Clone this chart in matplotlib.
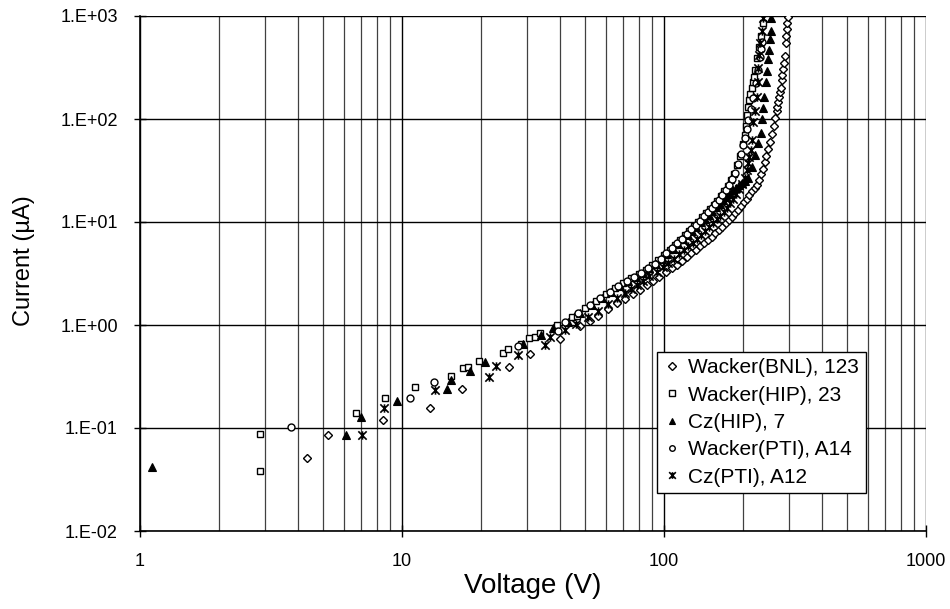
import math
import matplotlib
matplotlib.use('Agg')
import matplotlib.pyplot as plt
from matplotlib.path import Path
from matplotlib.ticker import FixedLocator, FuncFormatter, NullLocator, LogLocator

plt.rcParams['font.family'] = ['Liberation Sans', 'DejaVu Sans']

# Wacker(BNL), 123  - open diamonds
v_bnl = [4.33, 5.2, 8.46, 12.8, 16.9, 25.5, 30.8, 40, 47.8, 52, 56, 61, 66, 71, 76, 81, 86, 91, 96,
         102, 107, 112, 117, 122, 127, 132, 137, 142, 147, 152, 157, 162, 167, 172, 177, 182, 187,
         192, 197, 202, 207, 212, 217, 222, 226, 230, 234, 238, 242, 246, 250, 254, 258, 262, 266,
         269, 271, 273, 275, 277, 279, 281, 283, 285, 287, 289, 291, 293, 295, 296, 297]
i_bnl = [0.051, 0.085, 0.12, 0.155, 0.239, 0.394, 0.52, 0.73, 0.98, 1.1, 1.23, 1.42, 1.62, 1.8, 2.0,
         2.2, 2.44, 2.68, 2.92, 3.25, 3.55, 3.85, 4.2, 4.55, 4.95, 5.35, 5.8, 6.25, 6.7, 7.2, 7.75,
         8.35, 9.0, 9.7, 10.5, 11.3, 12.2, 13.2, 14.3, 15.5, 16.8, 18.2, 19.8, 21.5, 23, 25.5, 29,
         33, 38, 44, 51, 60, 72, 86, 103, 120, 132, 145, 165, 182, 199, 239, 270, 304, 350, 409,
         551, 640, 743, 850, 984]

# Wacker(HIP), 23  - open squares
v_hip = [2.87, 2.87, 6.69, 8.65, 11.2, 15.4, 17.1, 17.9, 19.6, 24.4, 25.4, 28.4, 30.5, 32.2, 33.6,
         39.2, 44.4, 46.4, 50, 55, 60, 65, 70, 75, 80, 85, 90, 95, 100, 105, 110, 115, 120, 125,
         130, 135, 140, 145, 150, 155, 160, 165, 170, 175, 180, 185, 190, 195, 200, 203, 205, 207,
         209, 211, 213, 216, 219, 221, 222, 226, 230, 234, 239]
i_hip = [0.038, 0.087, 0.141, 0.197, 0.25, 0.32, 0.385, 0.39, 0.45, 0.53, 0.59, 0.65, 0.75, 0.77,
         0.83, 1.0, 1.19, 1.22, 1.45, 1.72, 2.02, 2.3, 2.57, 2.85, 3.1, 3.45, 3.85, 4.25, 4.75,
         5.35, 6.0, 6.7, 7.45, 8.2, 9.1, 10.1, 11.1, 12.3, 13.4, 14.7, 16.0, 17.8, 19.8, 22.3,
         25.3, 29.5, 35.5, 44, 57, 70, 85, 109, 130, 153, 175, 200, 228, 256, 300, 391, 500, 640,
         855]

# Cz(HIP), 7  - filled triangles
v_czhip = [1.108, 6.1, 6.96, 9.6, 14.8, 15.4, 18.1, 20.7, 29, 34, 37.8, 43, 48, 53, 58, 63, 68, 73,
           78, 83, 88, 93, 98, 103, 108, 113, 118, 123, 128, 133, 138, 143, 148, 153, 158, 163,
           168, 173, 178, 183, 188, 193, 198, 204, 210, 216, 222, 228, 234, 236, 239, 241, 245,
           248, 250, 252, 254, 256, 257]
i_czhip = [0.042, 0.086, 0.129, 0.183, 0.24, 0.29, 0.355, 0.44, 0.65, 0.8, 0.93, 1.08, 1.3, 1.55,
           1.83, 2.1, 2.38, 2.65, 2.9, 3.2, 3.55, 3.95, 4.4, 4.9, 5.5, 6.1, 6.8, 7.5, 8.2, 9.0,
           9.9, 10.8, 11.8, 12.8, 13.9, 15.0, 16.2, 17.5, 18.9, 20.3, 21.6, 22.8, 24, 25, 26.5,
           34, 45, 58, 73, 100, 127, 165, 230, 290, 380, 470, 600, 720, 960]

# Wacker(PTI), A14  - open circles
v_pti = [3.77, 10.7, 13.2, 27.8, 39.3, 42, 47, 52, 57, 62, 67, 72, 77, 82, 87, 92, 97, 102, 107,
         112, 117, 122, 127, 132, 137, 142, 147, 152, 157, 162, 167, 172, 177, 182, 187, 192, 197,
         201, 204, 207, 210, 214, 218, 224, 229, 232, 234, 236]
i_pti = [0.103, 0.194, 0.28, 0.62, 0.87, 1.06, 1.3, 1.55, 1.82, 2.1, 2.4, 2.65, 2.9, 3.2, 3.55,
         3.95, 4.4, 4.95, 5.55, 6.2, 6.9, 7.6, 8.5, 9.4, 10.3, 11.4, 12.6, 13.8, 15.0, 16.5, 18.2,
         20.3, 22.8, 26, 30, 36.5, 46, 56, 66, 80, 98, 125, 160, 225, 300, 400, 480, 560]

# Cz(PTI), A12  - star markers
v_czpti = [7.06, 8.56, 13.4, 21.5, 22.8, 27.8, 35.2, 36.6, 41.9, 46, 51.4, 56, 61, 66, 71, 75, 78.6,
           83, 88, 93.8, 99, 104, 109, 114, 119, 124, 129, 134, 139, 144, 149, 154, 159, 164, 169,
           174, 179, 184, 189, 194, 198, 203, 207, 210, 212, 214, 216, 219, 222, 226, 228, 229,
           231, 233, 236, 239]
i_czpti = [0.086, 0.157, 0.234, 0.315, 0.40, 0.51, 0.64, 0.77, 0.89, 1.02, 1.2, 1.38, 1.6, 1.82,
           2.05, 2.25, 2.44, 2.7, 3.0, 3.3, 3.65, 4.0, 4.4, 4.85, 5.3, 5.8, 6.3, 6.9, 7.5, 8.2,
           8.9, 9.7, 10.6, 11.5, 12.6, 13.8, 15.2, 16.8, 18.7, 21, 23.5, 27, 32, 37, 43, 50, 63,
           94, 120, 165, 230, 313, 420, 547, 720, 950]

x_ticks = [1, 10, 100, 1000]
y_ticks = [1e-2, 1e-1, 1e0, 1e1, 1e2, 1e3]

# excel-like star marker: an x with a vertical bar
star = Path([(-1, -1), (1, 1), (-1, 1), (1, -1), (0, -1), (0, 1)],
            [Path.MOVETO, Path.LINETO] * 3)

fig = plt.figure(figsize=(9.5, 6.09), dpi=100)
ax = fig.add_axes([140 / 950, 1 - 531 / 609, 786 / 950, 515 / 609])

ax.plot(v_bnl, i_bnl, ls='none', marker='D', ms=4.5, mfc='white', mec='black', mew=1.0,
        label='Wacker(BNL), 123')
ax.plot(v_hip, i_hip, ls='none', marker='s', ms=5, mfc='white', mec='black', mew=1.0,
        label='Wacker(HIP), 23')
ax.plot(v_czhip, i_czhip, ls='none', marker='^', ms=6, mfc='black', mec='black', mew=0.8,
        label='Cz(HIP), 7')
ax.plot(v_pti, i_pti, ls='none', marker='o', ms=5, mfc='white', mec='black', mew=1.0,
        label='Wacker(PTI), A14')
ax.plot(v_czpti, i_czpti, ls='none', marker=star, ms=6, mfc='none', mec='black', mew=1.2,
        label='Cz(PTI), A12')

ax.set_xscale('log')
ax.set_yscale('log')
ax.set_xlim(1, 1000)
ax.set_ylim(0.01, 1000)

ax.xaxis.set_major_locator(FixedLocator(x_ticks))
ax.xaxis.set_major_formatter(FuncFormatter(lambda v, p: f'{v:g}'))
ax.xaxis.set_minor_locator(LogLocator(base=10, subs=range(2, 10)))
ax.xaxis.set_minor_formatter(FuncFormatter(lambda v, p: ''))
ax.yaxis.set_major_locator(FixedLocator(y_ticks))
ax.yaxis.set_major_formatter(FuncFormatter(lambda v, p: '1.E{:+03d}'.format(int(round(math.log10(v))))))
ax.yaxis.set_minor_locator(NullLocator())

ax.grid(which='major', axis='both', color='black', lw=1.0)
ax.grid(which='minor', axis='x', color='#404040', lw=0.9)
ax.set_axisbelow(True)

ax.tick_params(which='major', direction='inout', length=8, width=1, labelsize=13)
ax.tick_params(axis='y', which='major', pad=12)
ax.tick_params(axis='x', which='major', pad=12)
ax.tick_params(which='minor', length=0)
ax.spines['top'].set_visible(False)
ax.spines['right'].set_visible(False)
ax.spines['left'].set_linewidth(1.2)
ax.spines['bottom'].set_linewidth(1.2)

ax.set_xlabel('Voltage (V)', fontsize=20, labelpad=2)
ax.set_ylabel('Current (µA)', fontsize=17)
ax.yaxis.set_label_coords(-0.134, 0.525)

leg = ax.legend(loc='lower left', bbox_to_anchor=(0.658, 0.074), fontsize=15, frameon=True,
                fancybox=False, framealpha=1, edgecolor='black', handlelength=0.8,
                handletextpad=0.4, labelspacing=0.4, borderpad=0.3, borderaxespad=0,
                markerscale=0.8)
leg.get_frame().set_linewidth(1.0)

fig.savefig('out.png', dpi=100, facecolor='white')
